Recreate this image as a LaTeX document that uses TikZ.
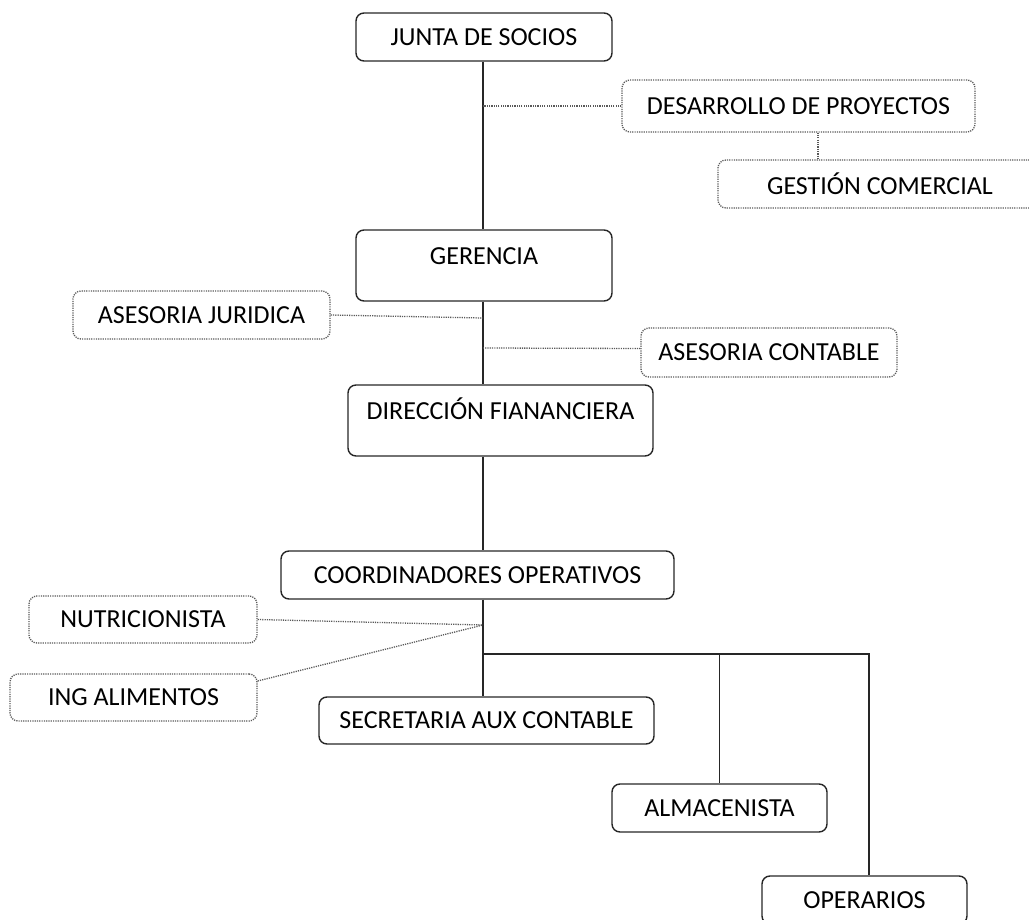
\documentclass[tikz,border=0pt]{standalone}
\usepackage{fontspec}
\setmainfont{Carlito}
\usepackage{xcolor}
\usepackage{tikz}
\usetikzlibrary{shapes,arrows,positioning}

\tikzset{
    puesto/.style={
        draw=black!85,
        line width=1.4pt,
        rounded corners=8pt,
        inner sep=0pt,
        font=\fontsize{26}{30}\selectfont
    },
    alto/.style={
        text height=18pt,
        text depth=20pt
    },
    asesor/.style={
        draw=black!65,
        line width=1.3pt,
        dash pattern=on 1.2pt off 1.1pt,
        rounded corners=8pt,
        inner sep=0pt,
        font=\fontsize{26}{30}\selectfont
    },
    linea/.style={
        draw=black!85,
        line width=1.4pt
    },
    punteada/.style={
        draw=black!65,
        line width=1.3pt,
        dash pattern=on 1.2pt off 1.1pt
    }
}

\begin{document}
\begin{tikzpicture}[x=1pt,y=-1pt]
                \useasboundingbox (0,0) rectangle (1029,920);

                % cargos principales
                \node[puesto, minimum width=256, minimum height=48] (junta) at (484,37) {JUNTA DE SOCIOS};
                \node[puesto, alto, minimum width=256, minimum height=71] (gerencia) at (484,265.5) {GERENCIA};
                \node[puesto, alto, minimum width=305, minimum height=71] (direccion) at (500.5,420.5) {DIRECCIÓN FIANANCIERA};
                \node[puesto, minimum width=393, minimum height=48] (coordinadores) at (477.5,575) {COORDINADORES OPERATIVOS};
                \node[puesto, minimum width=335, minimum height=47] (secretaria) at (486.5,720.5) {SECRETARIA AUX CONTABLE};
                \node[puesto, minimum width=215, minimum height=48] (almacenista) at (719.5,808) {ALMACENISTA};
                \node[puesto, minimum width=205, minimum height=48] (operarios) at (864.5,900) {OPERARIOS};

                % apoyo
                \node[asesor, minimum width=353, minimum height=52] (desarrollo) at (798.5,106) {DESARROLLO DE PROYECTOS};
                \node[asesor, minimum width=324, minimum height=48] (gestion) at (880,184) {GESTIÓN COMERCIAL};
                \node[asesor, minimum width=257, minimum height=48] (juridica) at (201.5,315) {ASESORIA JURIDICA};
                \node[asesor, minimum width=256, minimum height=49] (contable) at (769,352.5) {ASESORIA CONTABLE};
                \node[asesor, minimum width=228, minimum height=47] (nutricionista) at (143,619.5) {NUTRICIONISTA};
                \node[asesor, minimum width=247, minimum height=47] (ingalimentos) at (133.5,697.5) {ING ALIMENTOS};

                % puntos sobre el eje
                \coordinate (eje) at (483,0);
                \coordinate (nodoJ) at (483,318);
                \coordinate (nodoK) at (483,348);
                \coordinate (nodoC) at (483,625);
                \coordinate (ramal) at (483,654);

                % eje vertical
                \draw[linea] (eje |- junta.south) -- (eje |- gerencia.north);
                \draw[linea] (eje |- gerencia.south) -- (eje |- direccion.north);
                \draw[linea] (eje |- direccion.south) -- (eje |- coordinadores.north);
                \draw[linea] (eje |- coordinadores.south) -- (eje |- secretaria.north);
                \draw[linea] (ramal) -- (ramal -| 869,0) -- ([xshift=4.5pt]operarios.north);
                \draw[linea] (ramal -| almacenista.north) -- (almacenista.north);

                % lineas punteadas
                \draw[punteada] (desarrollo.west) -- (eje |- desarrollo.west);
                \draw[punteada] ([xshift=19.5pt]desarrollo.south) -- ([xshift=19.5pt]desarrollo.south |- gestion.north);
                \draw[punteada] (juridica.east) -- (nodoJ);
                \draw[punteada] ([yshift=4pt]contable.west) -- (nodoK);
                \draw[punteada] (nutricionista.east) -- (nodoC);
                \draw[punteada] ([yshift=16.5pt]ingalimentos.east) -- (nodoC);

             \end{tikzpicture}
\end{document}
